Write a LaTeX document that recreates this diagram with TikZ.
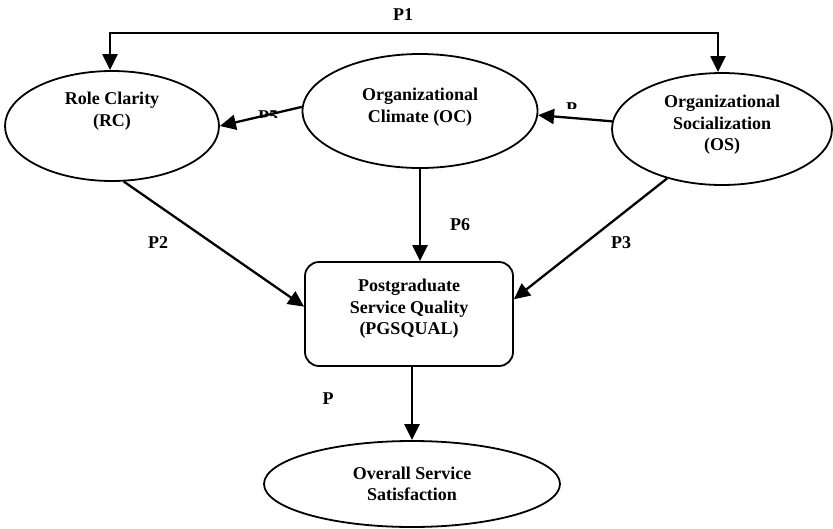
\documentclass[tikz,border=0pt]{standalone}
\usepackage{fontspec}
\setmainfont{Liberation Serif}
\usetikzlibrary{shapes.geometric,arrows.meta}
\begin{document}
\begin{tikzpicture}[x=1pt,y=-1pt,
  font=\bfseries\fontsize{18}{21.5}\selectfont,
  oval/.style={draw, line width=1.8pt, ellipse, inner sep=0pt},
  box/.style={draw, line width=1.8pt, rounded corners=14pt, inner sep=0pt},
  txt/.style={inner sep=0pt, align=center},
  arr/.style={line width=2.3pt, -{Triangle[length=16pt,width=15pt]}},
  dbl/.style={line width=2.3pt, {Triangle[length=16pt,width=15pt]}-{Triangle[length=16pt,width=15pt]}},
  lbl/.style={inner sep=0pt}]
\useasboundingbox (0,0) rectangle (833,528);
\node[oval, minimum width=214pt, minimum height=110pt] (rc) at (112,126) {};
\node[txt] (rct) at (112,111) {Role Clarity\\(RC)};
\node[oval, minimum width=235pt, minimum height=114pt] (oc) at (420,111) {};
\node[txt] (oct) at (420,107) {Organizational\\Climate (OC)};
\node[oval, minimum width=220pt, minimum height=112pt] (os) at (722,129) {};
\node[txt] (ost) at (722,125) {Organizational\\Socialization\\(OS)};
\node[box, minimum width=208pt, minimum height=104pt] (pg) at (409,314) {};
\node[txt] (pgt) at (409,309) {Postgraduate\\Service Quality\\(PGSQUAL)};
\node[oval, minimum width=296pt, minimum height=86pt] (oss) at (412,484) {};
\node[txt] (osst) at (412,484) {Overall Service\\Satisfaction};

\coordinate (c1) at (110,33);
\coordinate (c2) at (718,33);
\draw[dbl] (c1 |- rc.north) -- (c1) -- (c2) -- (c2 |- os.north);
\node[lbl] (p1) at (403,15) {P1};

\draw[arr] (oc.178) -- (rc.east);
\draw[arr] (os.176) -- (oc.358);
\draw[arr] (oc.south) -- (oc.south |- pg.north);
\draw[arr] (rc.282) -- (pg.176);
\draw[arr] (os.222) -- (pg.8);
\draw[arr] (pg.south -| oss.north) -- (oss.north);

\begin{scope}
  \clip (240,100) rectangle (300,117);
  \node[lbl, anchor=base] (p5) at (268,122) {P5};
\end{scope}
\begin{scope}
  \clip (555,95) rectangle (577.5,108);
  \node[lbl, anchor=base west] (p4) at (566,114) {P4};
\end{scope}
\node[lbl] (p2) at (158,243) {P2};
\node[lbl] (p6) at (460,225) {P6};
\node[lbl] (p3) at (621,243) {P3};
\node[lbl] (p7) at (328,399) {P};
\end{tikzpicture}
\end{document}
